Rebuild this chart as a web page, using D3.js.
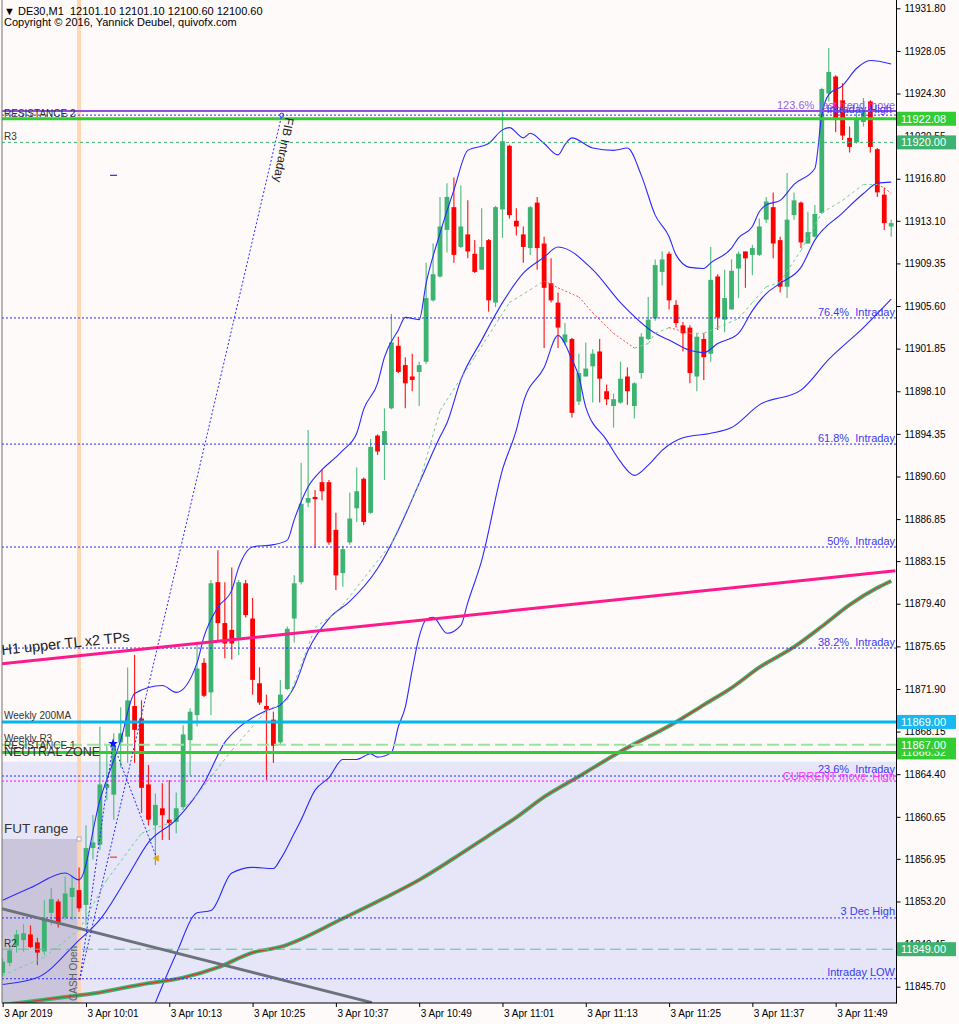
<!DOCTYPE html>
<html>
<head>
<meta charset="utf-8">
<title>DE30,M1</title>
<script src="https://cdnjs.cloudflare.com/ajax/libs/d3/7.8.5/d3.min.js"></script>
<style>
  body { margin: 0; background: #fffafa; }
  svg { display: block; font-family: "Liberation Sans", Arial, sans-serif; }
</style>
</head>
<body>
<svg id="chart" width="959" height="1024"></svg>
<script>
// DE30 M1, 3 Apr 2019, one bar per minute from 09:49 to 11:57

// time axis
const tickIdx = [0, 12, 24, 36, 48, 60, 72, 84, 96, 108, 120];
const tickLabels = ["3 Apr 2019", "3 Apr 10:01", "3 Apr 10:13", "3 Apr 10:25", "3 Apr 10:37", "3 Apr 10:49",
    "3 Apr 11:01", "3 Apr 11:13", "3 Apr 11:25", "3 Apr 11:37", "3 Apr 11:49"];

// price axis
const priceTicks = [11931.80, 11928.05, 11924.30, 11920.55, 11916.80, 11913.10, 11909.35, 11905.60,
    11901.85, 11898.10, 11894.35, 11890.60, 11886.85, 11883.15, 11879.40, 11875.65, 11871.90,
    11868.15, 11864.40, 11860.65, 11856.95, 11853.20, 11849.45, 11845.70];

// candles
const open = [11846.9, 11847.8, 11849.3, 11849.8, 11850.3, 11849.6, 11848.8, 11852.2, 11853.2, 11851.8,
    11853.6, 11854.2, 11852.9, 11857.9, 11858.2, 11863.2, 11862.6, 11867.2, 11867.7, 11870.4,
    11869.3, 11863.5, 11859.9, 11861.4, 11860.4, 11860.2, 11861.5, 11867.4, 11869.6, 11874.2,
    11871.6, 11881.3, 11877.7, 11877.1, 11876.4, 11881.2, 11878.1, 11872.4, 11870.4, 11869.2,
    11867.2, 11871.9, 11878.1, 11881.3, 11888.3, 11888.8, 11890.1, 11890.1, 11885.9, 11882.1,
    11884.8, 11887.8, 11890.4, 11887.4, 11894.2, 11893.4, 11896.6, 11902.1, 11900.4, 11899.4,
    11899.8, 11900.7, 11906.1, 11908.2, 11912.3, 11914.3, 11910.8, 11911.9, 11910.2, 11908.8,
    11911.4, 11905.9, 11914.1, 11919.7, 11913.1, 11911.9, 11910.7, 11914.7, 11911.1, 11907.6,
    11905.9, 11902.4, 11902.7, 11897.2, 11899.4, 11900.3, 11901.6, 11898.1, 11896.8, 11897.1,
    11899.4, 11896.8, 11899.7, 11902.7, 11904.5, 11908.6, 11910.2, 11905.7, 11903.9, 11903.7,
    11899.4, 11902.7, 11901.4, 11908.2, 11904.4, 11905.3, 11908.9, 11910.4, 11910.1, 11910.1,
    11913.2, 11914.3, 11911.4, 11907.3, 11913.6, 11914.7, 11911.1, 11911.7, 11913.8, 11924.3,
    11925.8, 11923.7, 11920.4, 11920.0, 11921.8, 11923.6, 11919.4, 11915.4, 11912.6];
const high = [11848.2, 11849.3, 11850.7, 11851.2, 11851.1, 11850.0, 11853.3, 11854.4, 11853.4, 11855.4,
    11855.4, 11856.2, 11859.9, 11860.8, 11868.6, 11867.0, 11868.0, 11870.3, 11873.8, 11874.9,
    11870.9, 11865.2, 11862.7, 11863.6, 11863.9, 11862.8, 11868.7, 11870.2, 11875.8, 11874.6,
    11881.5, 11884.1, 11881.3, 11882.6, 11881.5, 11881.5, 11879.9, 11873.8, 11871.4, 11869.9,
    11872.7, 11877.4, 11881.9, 11891.8, 11894.7, 11889.4, 11891.2, 11890.3, 11887.4, 11884.5,
    11889.2, 11891.4, 11890.5, 11893.9, 11894.3, 11896.6, 11904.9, 11902.9, 11901.1, 11901.4,
    11900.7, 11909.4, 11911.1, 11915.2, 11916.4, 11916.9, 11916.2, 11914.9, 11911.4, 11914.2,
    11911.5, 11914.4, 11922.7, 11919.8, 11914.2, 11912.6, 11914.4, 11915.2, 11911.7, 11909.8,
    11906.8, 11904.1, 11902.8, 11901.4, 11902.4, 11901.8, 11902.7, 11898.7, 11897.9, 11900.7,
    11900.2, 11898.9, 11903.2, 11906.4, 11909.7, 11910.4, 11910.4, 11906.1, 11904.2, 11903.9,
    11903.2, 11903.2, 11910.8, 11908.4, 11908.8, 11909.7, 11910.4, 11910.4, 11911.0, 11913.3,
    11915.2, 11915.6, 11911.7, 11917.3, 11915.6, 11914.8, 11913.9, 11914.5, 11924.8, 11928.3,
    11925.9, 11925.2, 11921.4, 11922.6, 11923.9, 11923.7, 11919.5, 11916.0, 11913.2];
const low = [11846.6, 11847.5, 11848.7, 11848.8, 11849.1, 11847.6, 11848.5, 11851.1, 11850.9, 11851.6,
    11851.6, 11852.3, 11851.1, 11856.9, 11857.7, 11862.1, 11860.4, 11865.0, 11865.4, 11865.4,
    11861.0, 11859.9, 11856.4, 11858.6, 11858.6, 11859.2, 11861.3, 11864.3, 11868.6, 11871.2,
    11869.6, 11876.2, 11874.6, 11874.5, 11874.9, 11878.2, 11871.4, 11870.5, 11863.9, 11865.4,
    11867.0, 11871.8, 11876.0, 11881.1, 11887.9, 11884.3, 11888.5, 11884.6, 11880.6, 11880.9,
    11884.6, 11886.6, 11886.3, 11887.3, 11892.5, 11890.3, 11896.5, 11899.7, 11896.6, 11898.1,
    11896.8, 11900.5, 11906.0, 11908.1, 11910.3, 11909.4, 11910.7, 11909.8, 11908.5, 11908.8,
    11905.1, 11905.5, 11911.6, 11913.3, 11911.8, 11909.4, 11910.1, 11908.8, 11901.9, 11905.9,
    11901.9, 11902.2, 11895.8, 11896.9, 11899.4, 11897.1, 11897.1, 11896.9, 11894.9, 11897.0,
    11896.9, 11895.7, 11899.2, 11902.6, 11904.3, 11907.4, 11905.3, 11903.7, 11901.6, 11898.8,
    11898.1, 11899.1, 11900.7, 11903.5, 11903.3, 11905.3, 11906.3, 11907.2, 11908.3, 11910.0,
    11912.9, 11909.8, 11906.8, 11906.3, 11913.2, 11910.7, 11911.1, 11911.6, 11913.7, 11923.6,
    11920.9, 11920.2, 11919.1, 11919.9, 11921.4, 11919.1, 11915.2, 11912.3, 11911.7];
const close = [11847.9, 11848.9, 11850.3, 11850.4, 11849.2, 11848.7, 11851.6, 11853.4, 11851.4, 11853.9,
    11854.4, 11852.6, 11857.9, 11858.4, 11863.5, 11863.5, 11867.2, 11868.0, 11870.9, 11868.3,
    11863.2, 11860.4, 11861.7, 11860.8, 11860.1, 11861.4, 11867.9, 11869.9, 11873.7, 11871.3,
    11881.2, 11877.7, 11875.9, 11875.9, 11881.3, 11878.4, 11872.7, 11870.7, 11870.1, 11866.9,
    11871.4, 11877.2, 11881.2, 11888.2, 11888.7, 11888.6, 11889.3, 11884.8, 11881.9, 11884.2,
    11886.9, 11889.3, 11886.6, 11893.2, 11892.8, 11894.6, 11902.4, 11899.8, 11898.8, 11899.1,
    11900.4, 11906.3, 11908.4, 11912.6, 11915.2, 11910.1, 11912.6, 11910.4, 11908.6, 11910.8,
    11906.1, 11914.3, 11920.1, 11913.6, 11912.6, 11910.8, 11914.3, 11910.7, 11907.2, 11906.1,
    11903.7, 11903.1, 11896.2, 11899.7, 11900.1, 11901.4, 11899.2, 11897.4, 11897.4, 11899.2,
    11898.1, 11898.8, 11902.9, 11904.4, 11909.2, 11909.7, 11906.1, 11904.1, 11903.2, 11899.7,
    11902.9, 11901.1, 11907.9, 11904.6, 11906.3, 11908.7, 11910.2, 11909.8, 11910.7, 11912.6,
    11914.8, 11911.1, 11907.3, 11913.2, 11914.9, 11911.2, 11912.1, 11913.7, 11924.7, 11926.2,
    11922.1, 11920.6, 11919.6, 11922.0, 11922.7, 11919.6, 11915.6, 11912.9, 11912.9];

// bollinger bands, sampled at bar indices
const upIdx = [0, 4, 9, 11, 14, 17, 19, 23, 25, 28, 29, 31, 33, 34, 36, 39, 41, 42, 44, 46, 48, 49, 51, 52, 54,
    55, 57, 58, 60, 61, 63, 65, 67, 70, 72, 73, 75, 76, 78, 80, 81, 82, 85, 88, 90, 92, 94, 96, 97, 99,
    101, 102, 105, 106, 108, 109, 110, 112, 114, 117, 118, 119, 121, 123, 125, 128];
const upVal = [11853.3, 11854.4, 11855.7, 11855.1, 11862.1, 11867.4, 11871.5, 11872.2, 11871.6, 11874.2,
    11876.5, 11879.1, 11880.6, 11882.6, 11884.4, 11884.6, 11885.0, 11886.8, 11889.7, 11891.2,
    11892.3, 11892.9, 11894.4, 11896.5, 11898.8, 11901.1, 11903.5, 11904.6, 11904.4, 11907.6,
    11912.0, 11915.8, 11919.3, 11919.9, 11921.1, 11921.3, 11920.4, 11920.8, 11919.9, 11918.9,
    11919.8, 11920.4, 11919.5, 11919.3, 11919.5, 11917.1, 11913.6, 11911.7, 11910.1, 11909.0,
    11908.9, 11909.4, 11910.7, 11911.6, 11912.6, 11913.9, 11914.5, 11914.9, 11916.3, 11917.7,
    11922.4, 11924.2, 11925.0, 11926.5, 11927.2, 11926.9];
const midIdx = [0, 5, 11, 14, 18, 21, 25, 29, 32, 34, 38, 40, 42, 44, 47, 50, 54, 57, 60, 63, 64, 66, 69, 72,
    75, 78, 80, 85, 89, 94, 96, 99, 101, 103, 106, 108, 110, 112, 115, 117, 121, 124, 126, 128];
const midVal = [11845.9, 11846.5, 11849.8, 11851.6, 11855.4, 11858.4, 11860.4, 11863.6, 11867.2, 11868.5,
    11870.0, 11870.5, 11872.1, 11875.3, 11878.1, 11879.6, 11882.5, 11885.9, 11890.0, 11894.1,
    11895.3, 11899.1, 11902.6, 11905.9, 11908.5, 11909.9, 11910.8, 11908.8, 11905.9, 11903.2,
    11902.6, 11901.7, 11901.5, 11902.3, 11903.2, 11905.2, 11906.7, 11907.6, 11909.0, 11911.4,
    11913.8, 11915.5, 11916.4, 11916.5];
const lowIdx = [22, 25, 28, 30, 33, 36, 39, 40, 42, 43, 45, 47, 49, 51, 53, 54, 56, 57, 58, 59, 60, 61, 62, 64,
    66, 67, 69, 72, 74, 75, 78, 80, 82, 83, 84, 87, 89, 91, 93, 95, 98, 102, 105, 109, 115, 119, 124, 128];
const lowVal = [11844.3, 11848.6, 11852.2, 11852.4, 11855.7, 11856.2, 11856.1, 11856.9, 11859.2, 11860.4,
    11863.0, 11864.1, 11865.7, 11865.7, 11866.2, 11865.9, 11866.3, 11868.6, 11870.3, 11873.6,
    11876.5, 11878.0, 11878.2, 11876.8, 11877.5, 11879.5, 11883.2, 11891.2, 11894.7, 11897.1,
    11900.2, 11903.0, 11900.9, 11899.4, 11896.7, 11893.8, 11891.9, 11890.7, 11891.6, 11892.9,
    11894.0, 11894.4, 11894.9, 11896.9, 11898.2, 11900.9, 11903.7, 11906.2];

// fast moving average (dashed, coloured by direction)
const maIdx = [0, 6, 11, 15, 20, 24, 28, 33, 38, 41, 42, 45, 48, 49, 56, 60, 63, 68, 73, 78, 80, 83, 85, 88,
    91, 93, 94, 96, 99, 101, 103, 106, 108, 110, 112, 115, 118, 121, 124, 126, 127, 128];
const maVal = [11846.7, 11848.3, 11850.7, 11855.1, 11859.2, 11860.1, 11862.6, 11866.5, 11870.0, 11870.9,
    11872.4, 11877.3, 11878.6, 11879.3, 11884.7, 11890.0, 11896.4, 11901.1, 11905.9, 11907.8,
    11907.2, 11906.4, 11905.0, 11903.2, 11901.9, 11902.3, 11903.2, 11903.7, 11903.2, 11903.2,
    11903.7, 11904.5, 11905.9, 11907.3, 11907.7, 11910.5, 11913.8, 11914.9, 11916.3, 11916.3,
    11916.0, 11915.5];

// 200 ema (thick green/red line)
const emaIdx = [0, 4, 9, 13, 20, 26, 31, 36, 40, 49, 55, 60, 65, 70, 74, 78, 83, 89, 97, 101, 105, 109, 114,
    118, 122, 126, 128];
const emaVal = [11844.1, 11844.4, 11844.8, 11845.1, 11845.9, 11846.5, 11847.4, 11848.7, 11849.2, 11851.7,
    11853.5, 11855.1, 11857.0, 11859.0, 11860.6, 11862.4, 11864.2, 11866.4, 11869.0, 11870.5,
    11872.0, 11873.8, 11875.6, 11877.4, 11879.3, 11880.8, 11881.4];

// horizontal levels
const levelNames = ["RESISTANCE 2", "Intraday High", "Resistance 11922", "R3", "76.4%", "61.8%", "50%", "38.2%",
    "Weekly 200MA", "Weekly R3", "RESISTANCE 1", "23.6%", "CURRENT move High", "3 Dec High", "R2", "Intraday LOW"];
const levelPrices = [11922.76, 11922.40, 11922.08, 11920.00, 11904.55, 11893.45, 11884.39, 11875.50,
    11869.00, 11867.00, 11866.32, 11864.24, 11863.80, 11851.75, 11849.00, 11846.40];

// price boxes on the right axis
const boxPrices = [11922.08, 11920.00, 11869.00, 11866.32, 11867.00, 11849.00];

// zones, trendlines and marks: [bar index, price]
const neutralTop = 11865.5;
const futTop = 11858.7;
const cashIdx = 11;
const pinkTL = [[-0.4, 11874.1], [128.6, 11882.3]];
const grayTL = [[-0.4, 11852.6], [53.2, 11844.3]];
const fibLine = [[11.1, 11846.3], [40.2, 11922.4]];
const zigzag = [[11.1, 11846.3], [15.9, 11867.1], [22.2, 11857.0]];
const blueStar = [15.9, 11867.1];
const yellowArrow = [22.2, 11857.0];
const redDash = [15.9, 11857.1];
const blueDash = [15.9, 11917.1];

const svg = d3.select("#chart");
const plotL = 2, plotR = 896.5, plotB = 1003;

let x = d3.scaleLinear().domain([0, open.length - 1]).range([2.7, 891.2]);
let y = d3.scaleLinear().domain([priceTicks[priceTicks.length - 1], priceTicks[0]]).range([986.7, 8.3]);

const zip = (a, b) => a.map((d, i) => [d, b[i]]);
const straight = d3.line().x(d => x(d[0])).y(d => y(d[1]));
const smooth = d3.line().x(d => x(d[0])).y(d => y(d[1])).curve(d3.curveMonotoneX);

svg.append("rect").attr("width", 959).attr("height", 1024).attr("fill", "#fffafa");
svg.append("defs").append("clipPath").attr("id", "plotclip")
    .append("rect").attr("x", plotL).attr("y", 0).attr("width", plotR - plotL).attr("height", plotB);
const plot = svg.append("g").attr("clip-path", "url(#plotclip)");

// background zones
plot.append("rect")
    .attr("x", plotL).attr("y", y(neutralTop))
    .attr("width", plotR - plotL).attr("height", plotB - y(neutralTop))
    .attr("fill", "#e6e6f8");
plot.append("rect")
    .attr("x", plotL).attr("y", y(futTop))
    .attr("width", x(cashIdx) - plotL).attr("height", plotB - y(futTop))
    .attr("fill", "#cbc5dc");
plot.append("line")
    .attr("x1", x(cashIdx)).attr("x2", x(cashIdx)).attr("y1", 0).attr("y2", plotB)
    .attr("stroke", "#ffd3ad").attr("stroke-opacity", 0.9).attr("stroke-width", 4);

// candles
const bars = d3.range(open.length);
const up = i => close[i] >= open[i];
const cg = plot.append("g");
cg.selectAll("line").data(bars).join("line")
    .attr("x1", i => x(i)).attr("x2", i => x(i))
    .attr("y1", i => y(high[i])).attr("y2", i => y(low[i]))
    .attr("stroke", i => up(i) ? "#56c085" : "#ff2020")
    .attr("stroke-width", 1.2);
cg.selectAll("rect").data(bars).join("rect")
    .attr("x", i => x(i) - 2.4).attr("width", 4.8)
    .attr("y", i => y(Math.max(open[i], close[i])))
    .attr("height", i => Math.max(1.2, Math.abs(y(open[i]) - y(close[i]))))
    .attr("fill", i => up(i) ? "#3cb371" : "#ff0000");

// bollinger bands
[[upIdx, upVal], [midIdx, midVal], [lowIdx, lowVal]].forEach(([a, b]) => {
    plot.append("path").datum(zip(a, b)).attr("d", smooth)
        .attr("fill", "none").attr("stroke", "#2a2aff").attr("stroke-width", 1.1);
});

// fast ma, green when rising and red when falling
const ma = zip(maIdx, maVal);
for (let i = 0; i < ma.length - 1; ++i) {
    let falling = ma[i + 1][1] < ma[i][1];
    plot.append("path").datum([ma[i], ma[i + 1]]).attr("d", straight)
        .attr("fill", "none")
        .attr("stroke", falling ? "#ff4a4a" : "#6fcf95")
        .attr("stroke-width", 1)
        .attr("stroke-dasharray", falling ? "2,2" : "3,3");
}

// 200 ema
const ema = zip(emaIdx, emaVal);
plot.append("path").datum(ema).attr("d", smooth)
    .attr("fill", "none").attr("stroke", "#3cb371").attr("stroke-width", 4);
plot.append("path").datum(ema).attr("d", smooth)
    .attr("fill", "none").attr("stroke", "#d8382a").attr("stroke-width", 1.2);

// horizontal lines
const levelStyle = {
    "RESISTANCE 2": { c: "#8f4fe0", w: 2 },
    "Intraday High": { c: "#2a2aff", w: 1, d: "2,2" },
    "Resistance 11922": { c: "#32cd32", w: 3 },
    "R3": { c: "#3cb371", w: 1, d: "3,3" },
    "Weekly 200MA": { c: "#00b8f0", w: 3 },
    "Weekly R3": { c: "#9be39b", w: 2, d: "12,5" },
    "RESISTANCE 1": { c: "#32cd32", w: 3 },
    "CURRENT move High": { c: "#ff00ff", w: 1, d: "2,2" },
    "R2": { c: "#5fbf8f", w: 1, d: "11,5" }
};
const fibStyle = { c: "#2a2aff", w: 1, d: "2,2" };
levelNames.forEach((name, i) => {
    let s = levelStyle[name] || fibStyle;
    plot.append("line")
        .attr("x1", plotL).attr("x2", plotR)
        .attr("y1", y(levelPrices[i])).attr("y2", y(levelPrices[i]))
        .attr("stroke", s.c).attr("stroke-width", s.w)
        .attr("stroke-dasharray", s.d || null);
});

// trendlines
plot.append("path").datum(pinkTL).attr("d", straight)
    .attr("stroke", "#ff1a8c").attr("stroke-width", 3);
plot.append("path").datum(grayTL).attr("d", straight)
    .attr("stroke", "#6c727c").attr("stroke-width", 3);
plot.append("path").datum(fibLine).attr("d", straight)
    .attr("fill", "none").attr("stroke", "#2a2aff").attr("stroke-dasharray", "2,2");
plot.append("path").datum(zigzag).attr("d", straight)
    .attr("fill", "none").attr("stroke", "#2a2aff").attr("stroke-dasharray", "2,2");
plot.append("circle")
    .attr("cx", x(fibLine[1][0])).attr("cy", y(fibLine[1][1])).attr("r", 2)
    .attr("fill", "none").attr("stroke", "#2a2aff");

// small marks
plot.append("path")
    .attr("transform", `translate(${x(blueStar[0])},${y(blueStar[1])})`)
    .attr("d", d3.symbol(d3.symbolStar, 30)).attr("fill", "#1010ff");
plot.append("path")
    .attr("transform", `translate(${x(yellowArrow[0])},${y(yellowArrow[1])}) rotate(-90)`)
    .attr("d", d3.symbol(d3.symbolTriangle, 22)).attr("fill", "#e8a818");
plot.append("line")
    .attr("x1", x(redDash[0]) - 3).attr("x2", x(redDash[0]) + 4)
    .attr("y1", y(redDash[1])).attr("y2", y(redDash[1]))
    .attr("stroke", "#ff3030").attr("stroke-width", 1.2);
plot.append("line")
    .attr("x1", x(blueDash[0]) - 3).attr("x2", x(blueDash[0]) + 4)
    .attr("y1", y(blueDash[1])).attr("y2", y(blueDash[1]))
    .attr("stroke", "#2a2aff").attr("stroke-width", 1.2);
plot.append("rect")
    .attr("x", x(cashIdx) - 2).attr("y", y(futTop) - 2).attr("width", 4).attr("height", 4)
    .attr("fill", "#ffffff").attr("stroke", "#a0a0b0").attr("stroke-width", 0.8);

// texts inside the chart
const tg = svg.append("g").attr("clip-path", "url(#plotclip)");
const label = (txt, px, py, opts = {}) => tg.append("text")
    .attr("x", px).attr("y", py)
    .attr("font-size", opts.size || 10)
    .attr("fill", opts.fill || "#333333")
    .attr("text-anchor", opts.anchor || "start")
    .attr("transform", opts.rot ? `rotate(${opts.rot},${px},${py})` : null)
    .style("white-space", "pre")
    .text(txt);

label("RESISTANCE 2", 4, y(11922.76) + 6);
label("R3", 4, y(11920.00) - 2);
label("Weekly 200MA", 4, y(11869.00) - 3);
label("Weekly R3", 4, y(11867.00) - 3);
label("RESISTANCE 1", 4, y(11866.32) - 3);
label("NEUTRAL ZONE", 4, y(11866.32) + 4, { size: 12.5 });
label("FUT range", 4, y(futTop) - 6, { size: 13.5 });
label("R2", 4, y(11849.00) - 2);
label("H1 upper TL x2 TPs", 2, y(pinkTL[0][1]) - 9, { size: 14.5, fill: "#222222", rot: -6 });
label("CASH Open", x(cashIdx) - 2, plotB - 2, { size: 10, fill: "#606060", rot: -90 });
label("FIB Intraday", x(fibLine[1][0]) + 4, y(fibLine[1][1]) + 2, { size: 12, fill: "#222222", rot: 101 });

const purple = "#9a5fe0", fibBlue = "#3a3af0";
label("123.6%", 777, y(11922.76) - 2, { size: 11, fill: purple });
label("last trend move", 895, y(11922.76) - 2, { size: 11, fill: purple, anchor: "end" });
label("Intraday High", 892, y(11922.40) - 2, { size: 11, fill: fibBlue, anchor: "end" });
label("76.4%  Intraday", 895, y(11904.55) - 2, { size: 11, fill: fibBlue, anchor: "end" });
label("61.8%  Intraday", 895, y(11893.45) - 2, { size: 11, fill: fibBlue, anchor: "end" });
label("50%  Intraday", 895, y(11884.39) - 2, { size: 11, fill: fibBlue, anchor: "end" });
label("38.2%  Intraday", 895, y(11875.50) - 2, { size: 11, fill: fibBlue, anchor: "end" });
label("23.6%  Intraday", 895, y(11864.24) - 3, { size: 11, fill: fibBlue, anchor: "end" });
label("CURRENT move  High", 895, y(11863.80) - 1, { size: 11, fill: "#ff33ff", anchor: "end" });
label("3 Dec High", 895, y(11851.75) - 3, { size: 11, fill: fibBlue, anchor: "end" });
label("Intraday LOW", 895, y(11846.40) - 3, { size: 11, fill: fibBlue, anchor: "end" });

// header
svg.append("text").attr("x", 4).attr("y", 15).attr("font-size", 11).attr("fill", "#000")
    .style("white-space", "pre")
    .text("\u25BC DE30,M1  12101.10 12101.10 12100.60 12100.60");
svg.append("text").attr("x", 4).attr("y", 26).attr("font-size", 11).attr("fill", "#000")
    .text("Copyright \u00A9 2016, Yannick Deubel, quivofx.com");

// axes
let yAxis = d3.axisRight(y).tickValues(priceTicks).tickFormat(d3.format(".2f")).tickSize(4).tickPadding(4);
svg.append("g").attr("transform", `translate(${plotR},0)`)
    .attr("font-family", "Liberation Sans, Arial, sans-serif").attr("font-size", 11)
    .call(yAxis)
    .call(g => g.select(".domain").remove());

let xAxis = d3.axisBottom(x).tickValues(tickIdx).tickFormat((d, i) => tickLabels[i]).tickSize(4).tickPadding(3);
svg.append("g").attr("transform", `translate(0,${plotB})`)
    .attr("font-family", "Liberation Sans, Arial, sans-serif").attr("font-size", 11)
    .call(xAxis)
    .call(g => g.select(".domain").remove())
    .selectAll("text").attr("text-anchor", "start").attr("x", 1);

svg.append("line").attr("x1", plotR).attr("x2", plotR).attr("y1", 0).attr("y2", plotB + 0.5)
    .attr("stroke", "#000");
svg.append("line").attr("x1", plotL).attr("x2", plotR).attr("y1", plotB).attr("y2", plotB)
    .attr("stroke", "#000");
svg.append("line").attr("x1", plotL).attr("x2", plotL).attr("y1", 0).attr("y2", plotB)
    .attr("stroke", "#707070");

// price boxes
const boxColor = { 11922.08: "#32cd32", 11920.00: "#3cb371", 11869.00: "#1ab8f0", 11867.00: "#32cd32", 11866.32: "#32cd32", 11849.00: "#3cb371" };
boxPrices.forEach(p => {
    let g = svg.append("g").attr("transform", `translate(${plotR + 0.5},${y(p)})`);
    g.append("rect").attr("x", 0).attr("y", -7).attr("width", 59).attr("height", 14)
        .attr("fill", boxColor[p]);
    g.append("text").attr("x", 4).attr("y", 4).attr("font-size", 11).attr("fill", "#ffffff")
        .text(d3.format(".2f")(p));
});
</script>
</body>
</html>
